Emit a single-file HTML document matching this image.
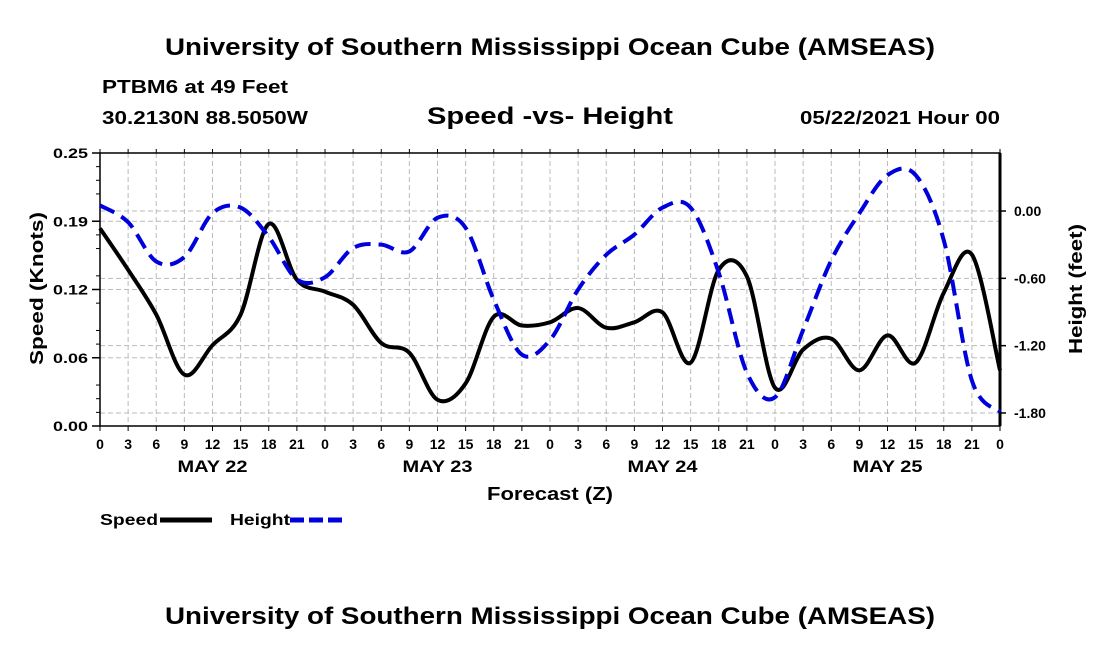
<!DOCTYPE html>
<html><head><meta charset="utf-8"><style>
body{margin:0;background:#fff;width:1100px;height:650px;overflow:hidden;font-family:"Liberation Sans",sans-serif}
svg text{font-family:"Liberation Sans",sans-serif;font-weight:bold;fill:#000}
</style></head><body>
<svg id="chart" width="1100" height="650" xmlns="http://www.w3.org/2000/svg">
<text x="165" y="55" font-size="24" textLength="770" lengthAdjust="spacingAndGlyphs">University of Southern Mississippi Ocean Cube (AMSEAS)</text>
<text x="102" y="93" font-size="18" textLength="186" lengthAdjust="spacingAndGlyphs">PTBM6 at 49 Feet</text>
<text x="102" y="124" font-size="18" textLength="206" lengthAdjust="spacingAndGlyphs">30.2130N  88.5050W</text>
<text x="427" y="124" font-size="24" textLength="246" lengthAdjust="spacingAndGlyphs">Speed -vs- Height</text>
<text x="800" y="124" font-size="18" textLength="200" lengthAdjust="spacingAndGlyphs">05/22/2021 Hour 00</text>
<g id="grid"></g>
<g id="axes"></g>
<g id="series"></g>
<text transform="translate(43,365) rotate(-90)" font-size="18" textLength="153" lengthAdjust="spacingAndGlyphs">Speed (Knots)</text>
<text transform="translate(1082,354) rotate(-90)" font-size="18" textLength="130" lengthAdjust="spacingAndGlyphs">Height (feet)</text>
<text x="487" y="500" font-size="18" textLength="126" lengthAdjust="spacingAndGlyphs">Forecast (Z)</text>
<g>
<text x="100" y="525" font-size="16" textLength="58" lengthAdjust="spacingAndGlyphs">Speed</text>
<line x1="160" y1="520" x2="212" y2="520" stroke="#000" stroke-width="5"/>
<text x="230" y="525" font-size="16" textLength="60" lengthAdjust="spacingAndGlyphs">Height</text>
<line x1="290" y1="520" x2="342" y2="520" stroke="#0000dd" stroke-width="5" stroke-dasharray="14,5"/>
</g>
<text x="165" y="624" font-size="24" textLength="770" lengthAdjust="spacingAndGlyphs">University of Southern Mississippi Ocean Cube (AMSEAS)</text>
</svg>
<script>
const hours=[0,3,6,9,12,15,18,21,24,27,30,33,36,39,42,45,48,51,54,57,60,63,66,69,72,75,78,81,84,87,90,93,96];
const speed=[0.181,0.143,0.102,0.047,0.074,0.102,0.185,0.134,0.123,0.111,0.076,0.067,0.024,0.039,0.100,0.092,0.095,0.108,0.090,0.095,0.104,0.058,0.143,0.137,0.035,0.070,0.080,0.051,0.083,0.058,0.122,0.157,0.051];
const height=[0.05,-0.10,-0.45,-0.41,-0.02,0.03,-0.23,-0.61,-0.59,-0.33,-0.30,-0.36,-0.06,-0.15,-0.79,-1.28,-1.15,-0.70,-0.39,-0.21,0.03,0.03,-0.55,-1.44,-1.66,-1.06,-0.44,-0.02,0.32,0.32,-0.26,-1.51,-1.79];
const leftTicks=[0,0.0625,0.125,0.1875,0.25];
const leftLabels=["0.00","0.06","0.12","0.19","0.25"];
const rightTicks=[0,-0.6,-1.2,-1.8];
const rightLabels=["0.00","-0.60","-1.20","-1.80"];
const dayLabels=["MAY 22","MAY 23","MAY 24","MAY 25"];
const X0=100,X1=1000,Y0=426,Y1=153;
const xS=h=>X0+(h/96)*(X1-X0);
const yL=v=>Y0-(v/0.25)*(Y0-Y1);
const yR=v=>211-(v/0.6)*67.33;
const NS="http://www.w3.org/2000/svg";
function mk(tag,attrs,parent){const e=document.createElementNS(NS,tag);for(const k in attrs)e.setAttribute(k,attrs[k]);parent.appendChild(e);return e;}
const grid=document.getElementById('grid'),axes=document.getElementById('axes'),ser=document.getElementById('series');
for(let h=3;h<96;h+=3){const l=mk('line',{x1:xS(h),x2:xS(h),y1:Y1,y2:Y0,stroke:'#bbb','stroke-dasharray':'5,3'},grid);

}
leftTicks.forEach((v,i)=>{if(i>0&&i<4){const l=mk('line',{x1:X0,x2:X1,y1:yL(v),y2:yL(v),stroke:'#bbb','stroke-dasharray':'5,3'},grid);

}
const t=mk('text',{x:X0-12,y:yL(v)+5,'font-size':14,'text-anchor':'end',textLength:35,lengthAdjust:'spacingAndGlyphs'},axes);t.textContent=leftLabels[i];


mk('line',{x1:X0-8,x2:X0,y1:yL(v),y2:yL(v),stroke:'#000','stroke-width':1.5},axes);});
for(let k=1;k<20;k++){if(k%4)mk('line',{x1:X0-4,x2:X0,y1:yL(k*0.0125),y2:yL(k*0.0125),stroke:'#000'},axes);}
rightTicks.forEach((v,i)=>{const l=mk('line',{x1:X0,x2:X1,y1:yR(v),y2:yR(v),stroke:'#bbb','stroke-dasharray':'5,3'},grid);


mk('line',{x1:X1,x2:X1+6,y1:yR(v),y2:yR(v),stroke:'#000','stroke-width':1.5},axes);
const t=mk('text',{x:X1+14,y:yR(v)+5,'font-size':14},axes);t.textContent=rightLabels[i];

});
mk('rect',{x:X0,y:Y1,width:X1-X0,height:Y0-Y1,fill:'none',stroke:'#000','stroke-width':1.5},axes);
mk('line',{x1:X1,x2:X1,y1:Y1,y2:Y0,stroke:'#000','stroke-width':3},axes);
for(let h=0;h<=96;h+=3){mk('line',{x1:xS(h),x2:xS(h),y1:Y0,y2:Y0+5,stroke:'#000'},axes);mk('line',{x1:xS(h),x2:xS(h),y1:Y1,y2:Y1-4,stroke:'#000'},axes);
const t=mk('text',{x:xS(h),y:Y0+23,'font-size':14,'text-anchor':'middle'},axes);t.textContent=String(h%24);

}
dayLabels.forEach((d,i)=>{const t=mk('text',{x:xS(12+24*i),y:Y0+46,'font-size':17,'text-anchor':'middle',textLength:70,lengthAdjust:'spacingAndGlyphs'},axes);t.textContent=d;

});
function path(ys){const p=hours.map((h,i)=>[xS(h),ys[i]]);let d='M'+p[0][0]+','+p[0][1];
for(let i=0;i<p.length-1;i++){const a=p[Math.max(0,i-1)],b=p[i],c=p[i+1],e=p[Math.min(p.length-1,i+2)];
d+=` C${b[0]+(c[0]-a[0])/6},${b[1]+(c[1]-a[1])/6} ${c[0]-(e[0]-b[0])/6},${c[1]-(e[1]-b[1])/6} ${c[0]},${c[1]}`;}return d;}
const sp=mk('path',{d:path(speed.map(yL)),fill:'none',stroke:'#000','stroke-width':4,'stroke-linejoin':'round'},ser);


const hp=mk('path',{d:path(height.map(yR)),fill:'none',stroke:'#0000dd','stroke-width':4,'stroke-dasharray':'16,8'},ser);


</script>
</body></html>
